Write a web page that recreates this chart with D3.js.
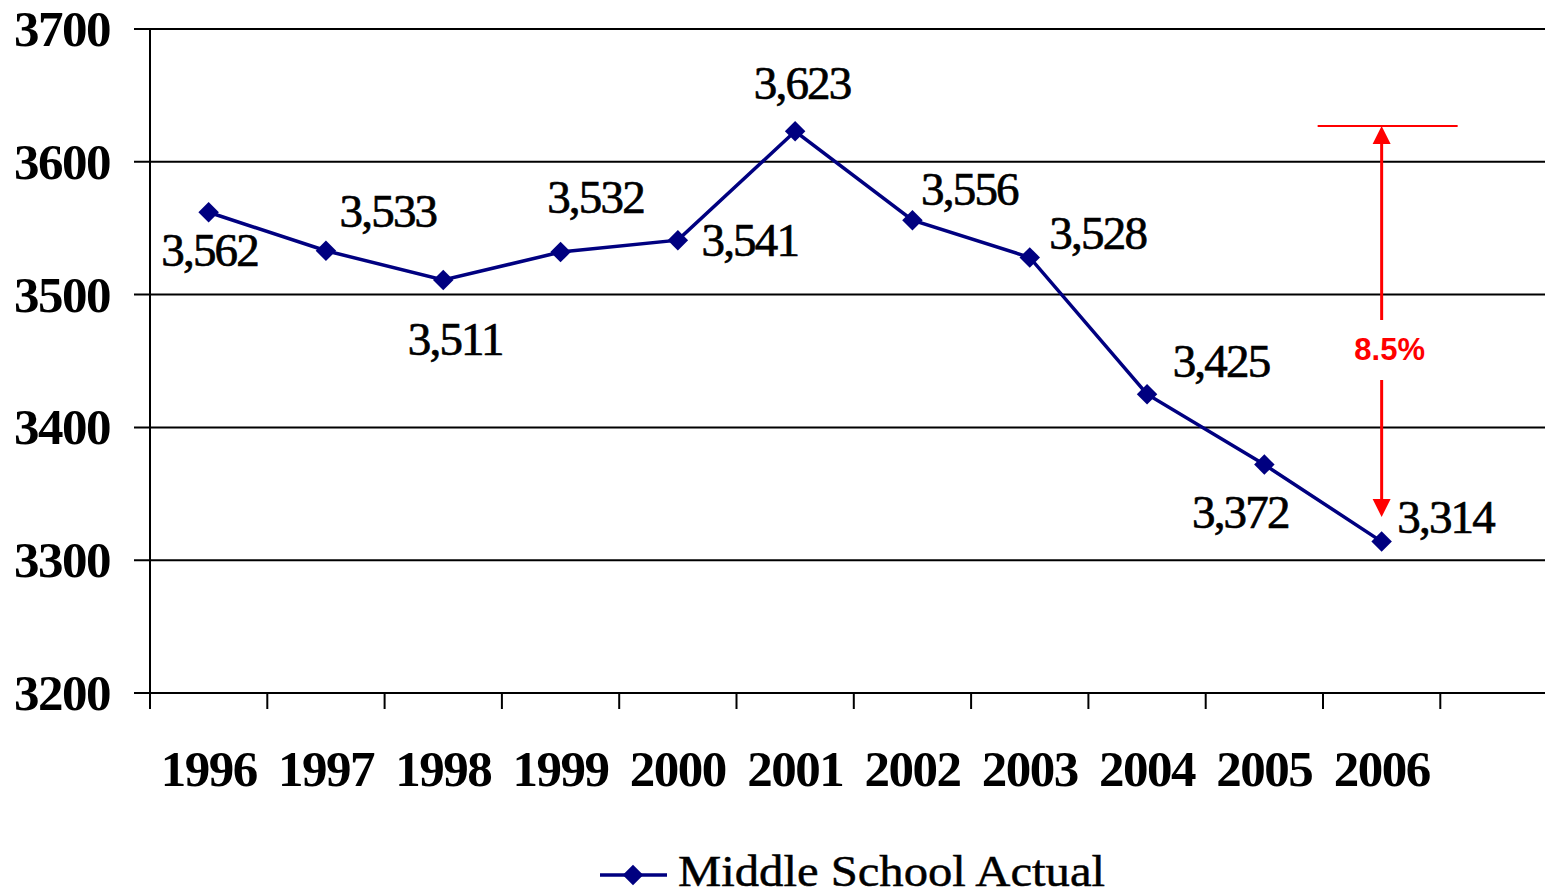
<!DOCTYPE html>
<html><head><meta charset="utf-8">
<script src="https://cdn.jsdelivr.net/npm/d3@7"></script>
<style>html,body{margin:0;padding:0;background:#fff;overflow:hidden}</style>
</head><body>
<svg id="c" width="1545" height="896"></svg>
<script>
const years = ["1996","1997","1998","1999","2000","2001","2002","2003","2004","2005","2006"];
const actual = [3562,3533,3511,3532,3541,3623,3556,3528,3425,3372,3314];
const yTicks = [3200,3300,3400,3500,3600,3700];
const seriesName = "Middle School Actual";
const changeLabel = "8.5%";
// label offsets (dx, dy) relative to each point
const labelOffsets = [[1,54],[62,-24],[12,75],[35,-39],[72,16],[7,-32],[57,-15],[68,-8],[74,-17],[-24,63],[64,-9]];

const svg = d3.select("#c");
const L = 150, R = 1545, T = 29, B = 693;
const x = d3.scaleBand().domain(years).range([L, L + 117.3 * years.length]);
const y = d3.scaleLinear().domain([3200, 3700]).range([B, T]);
const serif = "'Liberation Serif', 'Times New Roman', serif";

// gridlines
svg.append("g").selectAll("line").data(yTicks).join("line")
  .attr("x1", L - 16).attr("x2", R).attr("y1", d => y(d)).attr("y2", d => y(d))
  .attr("stroke", "#000").attr("stroke-width", 2);
// y axis line
svg.append("line").attr("x1", L).attr("x2", L).attr("y1", T).attr("y2", B + 16)
  .attr("stroke", "#000").attr("stroke-width", 2);
// x ticks at band boundaries
const bounds = years.map(d => x(d)).concat([x(years[years.length-1]) + x.bandwidth()]);
svg.append("g").selectAll("line").data(bounds.slice(1)).join("line")
  .attr("x1", d => d).attr("x2", d => d).attr("y1", B).attr("y2", B + 16)
  .attr("stroke", "#000").attr("stroke-width", 2);

// y labels
svg.append("g").selectAll("text").data(yTicks).join("text")
  .attr("x", 110).attr("y", d => y(d) + 17).attr("text-anchor", "end")
  .attr("font-family", serif).attr("font-weight", "bold").attr("font-size", 51)
  .attr("letter-spacing", -1.5)
  .text(d => d);
// x labels
svg.append("g").selectAll("text").data(years).join("text")
  .attr("x", d => x(d) + x.bandwidth()/2).attr("y", 786).attr("text-anchor", "middle")
  .attr("font-family", serif).attr("font-weight", "bold").attr("font-size", 51)
  .attr("letter-spacing", -1.5)
  .text(d => d);

// line
const cx = (d,i) => x(years[i]) + x.bandwidth()/2;
svg.append("path").datum(actual)
  .attr("d", d3.line().x(cx).y(d => y(d)))
  .attr("fill", "none").attr("stroke", "#000080").attr("stroke-width", 3.5);
svg.append("g").selectAll("path").data(actual).join("path")
  .attr("transform", (d,i) => `translate(${cx(d,i)},${y(d)}) rotate(45)`)
  .attr("d", d3.symbol().type(d3.symbolSquare).size(210))
  .attr("fill", "#000080");

// data labels
const fmt = d3.format(",");
svg.append("g").selectAll("text").data(actual).join("text")
  .attr("x", (d,i) => cx(d,i) + labelOffsets[i][0])
  .attr("y", (d,i) => y(d) + labelOffsets[i][1])
  .attr("text-anchor", "middle")
  .attr("font-family", serif).attr("font-size", 47).attr("letter-spacing", -1.8)
  .attr("stroke", "#000").attr("stroke-width", 0.7)
  .text(d => fmt(d));

// red annotation
const peakY = y(3627);
const ax = cx(null, 10);
const red = "#ff0000";
svg.append("line").attr("x1", ax - 64).attr("x2", ax + 76).attr("y1", peakY).attr("y2", peakY)
  .attr("stroke", red).attr("stroke-width", 2);
svg.append("line").attr("x1", ax).attr("x2", ax).attr("y1", peakY + 14).attr("y2", 320)
  .attr("stroke", red).attr("stroke-width", 3);
svg.append("path").attr("d", `M${ax},${peakY} L${ax-9},${peakY+18} L${ax+9},${peakY+18} Z`).attr("fill", red);
svg.append("line").attr("x1", ax).attr("x2", ax).attr("y1", 380).attr("y2", 505)
  .attr("stroke", red).attr("stroke-width", 3);
svg.append("path").attr("d", `M${ax},517 L${ax-9},499 L${ax+9},499 Z`).attr("fill", red);
svg.append("text").attr("x", ax + 8).attr("y", 360).attr("text-anchor", "middle")
  .attr("font-family", "'Liberation Sans', Arial, sans-serif").attr("font-weight", "bold")
  .attr("font-size", 31).attr("fill", red).text(changeLabel);

// legend
const lg = svg.append("g");
lg.append("line").attr("x1", 600).attr("x2", 667).attr("y1", 875).attr("y2", 875)
  .attr("stroke", "#000080").attr("stroke-width", 3.5);
lg.append("path").attr("transform", "translate(633,875) rotate(45)")
  .attr("d", d3.symbol().type(d3.symbolSquare).size(210)).attr("fill", "#000080");
lg.append("text").attr("x", 678).attr("y", 886)
  .attr("font-family", serif).attr("font-size", 45)
  .attr("textLength", 427).attr("lengthAdjust", "spacingAndGlyphs")
  .attr("stroke", "#000").attr("stroke-width", 0.5)
  .text(seriesName);
</script>
</body></html>
